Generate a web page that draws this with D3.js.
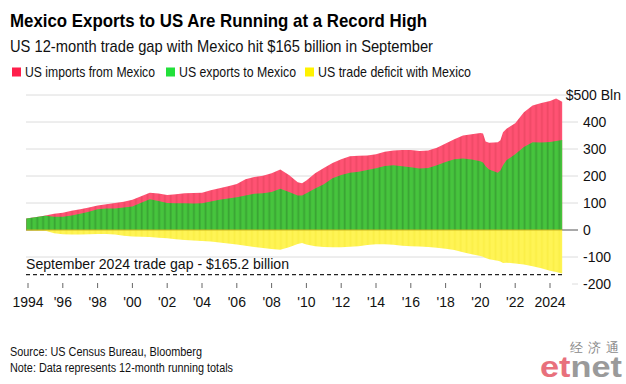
<!DOCTYPE html>
<html>
<head>
<meta charset="utf-8">
<script src="https://cdn.jsdelivr.net/npm/d3@7"></script>
<style>
  body { margin: 0; background: #fff; }
  text { font-family: "Liberation Sans", Arial, sans-serif; }
</style>
</head>
<body>
<svg id="chart" width="626" height="384"></svg>
<script>
// 12-month running totals, $ billions
const periods = [1993.9, 1994.5, 1995.0, 1995.5, 1996.0, 1996.5, 1997.0, 1997.5, 1998.0, 1998.5,
  1999.0, 1999.5, 2000.0, 2000.5, 2001.0, 2001.5, 2002.0, 2002.5, 2003.0, 2003.5,
  2004.0, 2004.5, 2005.0, 2005.5, 2006.0, 2006.5, 2007.0, 2007.5, 2008.0, 2008.5,
  2009.0, 2009.5, 2009.75, 2010.0, 2010.5, 2011.0, 2011.5, 2012.0, 2012.5, 2013.0,
  2013.5, 2014.0, 2014.5, 2015.0, 2015.5, 2016.0, 2016.5, 2017.0, 2017.5, 2018.0,
  2018.5, 2019.0, 2019.5, 2020.0, 2020.15, 2020.3, 2020.5, 2021.0, 2021.15, 2021.3,
  2021.5, 2022.0, 2022.5, 2023.0, 2023.5, 2024.0, 2024.35, 2024.7]
const usImports = [43, 48, 54, 60, 64, 71, 77, 83, 91, 95,
  100, 105, 112, 125, 138, 135, 130, 132, 136, 137,
  138, 147, 155, 162, 170, 188, 196, 201, 210, 224,
  204, 177, 173, 183, 210, 230, 248, 262, 273, 275,
  276, 281, 290, 294, 296, 296, 293, 294, 305, 320,
  336, 350, 355, 359, 357, 328, 323, 325, 332, 362,
  375, 395, 436, 461, 470, 478, 487, 475]
const usExports = [43, 48, 53, 49, 49, 54, 60, 68, 77, 80,
  80, 83, 87, 101, 114, 107, 100, 99, 99, 98,
  99, 106, 112, 117, 121, 128, 134, 136, 141, 153,
  141, 128, 128, 136, 154, 169, 192, 204, 212, 216,
  222, 229, 237, 240, 236, 232, 228, 230, 240, 252,
  262, 265, 261, 255, 250, 236, 224, 212, 220, 240,
  258, 281, 307, 325, 324, 326, 330, 333]
const tradeDeficit = [-1, -2, -3, -12, -16, -17, -17, -16, -15, -15,
  -17, -21, -24, -25, -26, -29, -31, -34, -37, -39,
  -41, -43, -46, -50, -54, -58, -63, -67, -70, -73,
  -64, -52, -48, -54, -60, -63, -64, -64, -62, -60,
  -56, -53, -53, -55, -58, -60, -61, -63, -66, -69,
  -74, -82, -90, -96, -99, -104, -108, -114, -117, -122,
  -121, -124, -128, -134, -142, -151, -156, -161]

const yTicks = [500, 400, 300, 200, 100, 0, -100, -200]
const yTickLabels = ["$500 Bln", "400", "300", "200", "100", "0", "-100", "-200"]
const xTicks = [1994, 1996, 1998, 2000, 2002, 2004, 2006, 2008, 2010, 2012, 2014, 2016, 2018, 2020, 2022, 2024]
const xTickLabels = ["1994", "'96", "'98", "'00", "'02", "'04", "'06", "'08", "'10", "'12", "'14", "'16", "'18", "'20", "'22", "2024"]

const legendItems = [
  {name: "US imports from Mexico", color: "#ff1f4b"},
  {name: "US exports to Mexico", color: "#22e03a"},
  {name: "US trade deficit with Mexico", color: "#fff200"}
]
const latestGap = -165.2

const data = periods.map((t, i) => ({t: t, imp: usImports[i], exp: usExports[i], def: tradeDeficit[i]}))

const svg = d3.select("#chart")

const x = d3.scaleLinear().domain([1994, 2024]).range([28, 550])
const y = d3.scaleLinear().domain([-200, 500]).range([284, 95])

const gridLeft = 26, gridRight = 578

// stripe patterns (the original is drawn from thin monthly bars)
const defs = svg.append("defs")
function stripes(id, base, dark) {
  const p = defs.append("pattern")
    .attr("id", id)
    .attr("patternUnits", "userSpaceOnUse")
    .attr("width", 5.8).attr("height", 10)
    .attr("x", 27)
  p.append("rect").attr("width", 5.8).attr("height", 10).attr("fill", base)
  p.append("rect").attr("x", 3.6).attr("width", 1.8).attr("height", 10).attr("fill", dark)
}
stripes("redStripe", "#ff5273", "#ef4966")
stripes("greenStripe", "#46c43d", "#3aa434")
stripes("yellowStripe", "#fff455", "#fbef47")

// gridlines
svg.append("g")
  .selectAll("line")
  .data(yTicks.filter(d => d !== 0 && d !== -200))
  .join("line")
    .attr("x1", gridLeft).attr("x2", gridRight)
    .attr("y1", d => y(d)).attr("y2", d => y(d))
    .attr("stroke", "#dcdcdc").attr("stroke-width", 1)

// short tick at -200 and dark zero line
svg.append("line")
  .attr("x1", 572).attr("x2", gridRight)
  .attr("y1", y(-200)).attr("y2", y(-200))
  .attr("stroke", "#dcdcdc")
svg.append("line")
  .attr("x1", gridLeft).attr("x2", gridRight)
  .attr("y1", y(0)).attr("y2", y(0))
  .attr("stroke", "#555").attr("stroke-width", 1)

// areas
const areaOf = key => d3.area()
  .x(d => x(d.t))
  .y0(y(0))
  .y1(d => y(d[key]))

svg.append("path").datum(data).attr("d", areaOf("imp")).attr("fill", "url(#redStripe)")
svg.append("path").datum(data).attr("d", areaOf("exp")).attr("fill", "url(#greenStripe)")
svg.append("path").datum(data).attr("d", areaOf("def")).attr("fill", "url(#yellowStripe)")

// zero line across the data
svg.append("line")
  .attr("x1", x(periods[0])).attr("x2", x(periods[periods.length - 1]))
  .attr("y1", y(0)).attr("y2", y(0))
  .attr("stroke", "#c9b521").attr("stroke-width", 1)

// latest trade gap annotation
svg.append("line")
  .attr("x1", gridLeft).attr("x2", x(periods[periods.length - 1]))
  .attr("y1", y(latestGap)).attr("y2", y(latestGap))
  .attr("stroke", "#222").attr("stroke-width", 1.2)
  .attr("stroke-dasharray", "4,3")
svg.append("text")
  .attr("x", gridLeft).attr("y", y(latestGap) - 6)
  .attr("font-size", 15).attr("fill", "#111")
  .attr("textLength", 263).attr("lengthAdjust", "spacingAndGlyphs")
  .text("September 2024 trade gap - $165.2 billion")

// y labels
svg.append("g")
  .selectAll("text")
  .data(yTicks)
  .join("text")
    .attr("x", (d, i) => i === 0 ? 621 : 583)
    .attr("y", d => y(d) + 5)
    .attr("text-anchor", (d, i) => i === 0 ? "end" : "start")
    .attr("font-size", 14).attr("fill", "#111")
    .text((d, i) => yTickLabels[i])

// x axis ticks
const xg = svg.append("g")
xg.selectAll("line")
  .data(xTicks)
  .join("line")
    .attr("x1", d => x(d)).attr("x2", d => x(d))
    .attr("y1", 283).attr("y2", 288)
    .attr("stroke", "#666")
xg.selectAll("text")
  .data(xTicks)
  .join("text")
    .attr("x", d => x(d))
    .attr("y", 307)
    .attr("text-anchor", "middle")
    .attr("font-size", 14).attr("fill", "#111")
    .text((d, i) => xTickLabels[i])

// title block
svg.append("text").attr("x", 10).attr("y", 27)
  .attr("font-size", 19).attr("font-weight", "bold").attr("fill", "#000")
  .attr("textLength", 417).attr("lengthAdjust", "spacingAndGlyphs")
  .text("Mexico Exports to US Are Running at a Record High")
svg.append("text").attr("x", 10).attr("y", 52)
  .attr("font-size", 17).attr("fill", "#111")
  .attr("textLength", 423).attr("lengthAdjust", "spacingAndGlyphs")
  .text("US 12-month trade gap with Mexico hit $165 billion in September")

// legend
const legendX = [12, 166, 305]
const legendW = [130, 117, 153]
const lg = svg.append("g").selectAll("g")
  .data(legendItems)
  .join("g")
    .attr("transform", (d, i) => "translate(" + legendX[i] + ",72)")
lg.append("rect").attr("x", 0).attr("y", -4.5).attr("width", 9).attr("height", 9).attr("fill", d => d.color)
lg.append("text").attr("x", 13).attr("y", 5).attr("font-size", 14.5).attr("fill", "#111")
  .attr("textLength", (d, i) => legendW[i]).attr("lengthAdjust", "spacingAndGlyphs")
  .text(d => d.name)

// source
svg.append("text").attr("x", 10).attr("y", 356)
  .attr("font-size", 12).attr("fill", "#111")
  .attr("textLength", 192).attr("lengthAdjust", "spacingAndGlyphs")
  .text("Source: US Census Bureau, Bloomberg")
svg.append("text").attr("x", 10).attr("y", 372)
  .attr("font-size", 12).attr("fill", "#111")
  .attr("textLength", 223).attr("lengthAdjust", "spacingAndGlyphs")
  .text("Note: Data represents 12-month running totals")

// etnet mark
svg.append("text").attr("x", 570).attr("y", 352)
  .attr("font-size", 13).attr("font-family", "Noto Sans CJK SC").attr("fill", "#8a8a8a")
  .attr("textLength", 49).attr("lengthAdjust", "spacing")
  .text("经济通")
const logo = svg.append("text").attr("x", 540).attr("y", 377)
  .attr("font-size", 30).attr("font-weight", "bold")
  .attr("textLength", 82).attr("lengthAdjust", "spacingAndGlyphs")
logo.append("tspan").attr("fill", "#e8707c").text("et")
logo.append("tspan").attr("fill", "#9a9a9a").text("net")
</script>
</body>
</html>
